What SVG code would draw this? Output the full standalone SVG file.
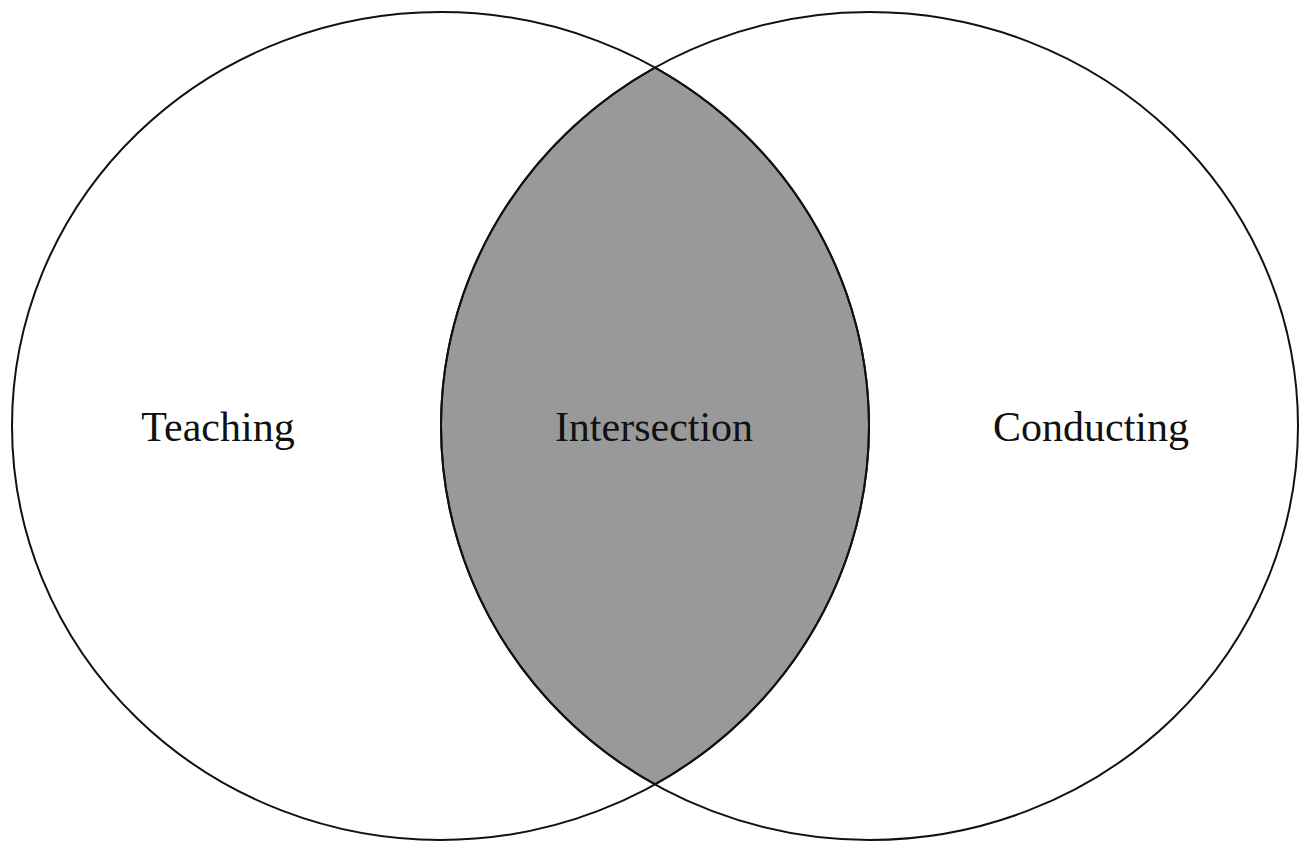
<svg xmlns="http://www.w3.org/2000/svg" width="1304" height="844" viewBox="0 0 1304 844">
  <style>
    .set { fill: none; stroke: #111; stroke-width: 2; }
    .overlap { fill: #999999; stroke: #111; stroke-width: 2; }
    .label { font-family: "Liberation Serif", "Times New Roman", serif; font-size: 42px; fill: #111; text-anchor: middle; }
  </style>
  <rect width="1304" height="844" fill="#ffffff"/>
  <g id="intersection">
    <path class="overlap" d="M 655 67.6 A 428.5 414 0 0 1 655 784.4 A 428.5 414 0 0 1 655 67.6 Z"/>
    <text class="label" x="654" y="441">Intersection</text>
  </g>
  <g id="teaching">
    <ellipse class="set" cx="440.5" cy="426" rx="428.5" ry="414"/>
    <text class="label" x="218" y="441">Teaching</text>
  </g>
  <g id="conducting">
    <ellipse class="set" cx="869.5" cy="426" rx="428.5" ry="414"/>
    <text class="label" x="1091" y="441">Conducting</text>
  </g>
</svg>
